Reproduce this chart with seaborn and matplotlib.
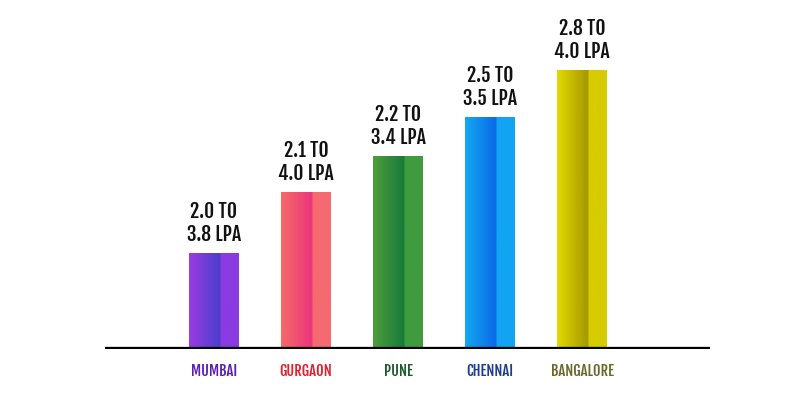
import numpy as np
import pandas as pd
import seaborn as sns
import matplotlib.pyplot as plt
from matplotlib.colors import LinearSegmentedColormap

cities = ["MUMBAI", "GURGAON", "PUNE", "CHENNAI", "BANGALORE"]
heights = [96, 157, 193, 232, 279]
ranges = ["2.0 TO\n3.8 LPA", "2.1 TO\n4.0 LPA", "2.2 TO\n3.4 LPA",
          "2.5 TO\n3.5 LPA", "2.8 TO\n4.0 LPA"]
label_colors = ["#5b1fb3", "#e3202c", "#1d5a2c", "#1f3d8a", "#6b6a2c"]
# left, dark middle, right highlight for each bar
bar_shades = [
    ["#9b3ce2", "#4a3fcc", "#8a3be2"],
    ["#f56c68", "#ec347c", "#f56a70"],
    ["#4f9e3a", "#177a3c", "#3f9c3e"],
    ["#14a8f0", "#0b6ae8", "#12a4f2"],
    ["#e2da00", "#a59800", "#d6cc00"],
]

sns.set_theme(style="white")
plt.rcParams["font.family"] = ["Fjalla One", "DejaVu Sans"]

df = pd.DataFrame({"city": cities, "height": heights})

fig = plt.figure(figsize=(8, 4), dpi=100)
ax = fig.add_axes([0.131, 0.1275, 0.7565, 0.8725])
sns.barplot(df, x="city", y="height", hue="city", palette=[s[1] for s in bar_shades],
            width=0.54, legend=False, ax=ax, saturation=1)

for i, (patch, shades) in enumerate(zip(ax.patches, bar_shades)):
    x0, y0 = patch.get_x(), patch.get_y()
    w, h = patch.get_width(), patch.get_height()
    cmap = LinearSegmentedColormap.from_list(
        "g", [(0, shades[0]), (0.62, shades[1]), (0.64, shades[2]), (1, shades[2])])
    grad = np.linspace(0, 1, 256).reshape(1, -1)
    im = ax.imshow(grad, cmap=cmap, aspect="auto", extent=[x0, x0 + w, y0, y0 + h],
                   zorder=patch.get_zorder() + 0.1)
    im.set_clip_path(patch)
    ax.text(x0 + w / 2, y0 + h + 8, ranges[i],
            ha="center", va="bottom", fontsize=14,
            color="#111111", linespacing=1.1)

ax.axhline(0, color="black", lw=3.8, zorder=5)
ax.set_xlim(-1.185, 5.39)
ax.set_ylim(0, 349)
ax.set_xlabel("")
ax.set_ylabel("")
ax.set_yticks([])
ax.tick_params(axis="x", length=0, pad=10)
for lbl, c in zip(ax.get_xticklabels(), label_colors):
    lbl.set_color(c)
    lbl.set_fontsize(10.5)
sns.despine(ax=ax, left=True, bottom=True)

fig.savefig("out.png", dpi=100)
